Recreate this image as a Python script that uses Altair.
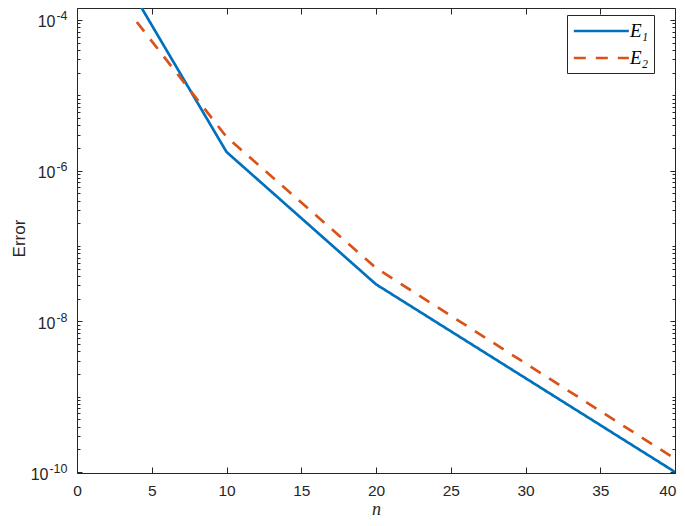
import altair as alt
import pandas as pd

# ---- data ----
n_values = [4, 10, 20, 40]
e1_values = [1.85e-4, 1.77e-6, 3.1e-8, 1.0e-10]
e2_values = [9.4e-5, 2.8e-6, 5.1e-8, 1.5e-10]
series_names = ["E₁", "E₂"]
series_colors = ["#0072BD", "#D95319"]
x_ticks = [0, 5, 10, 15, 20, 25, 30, 35, 40]
y_exponents = [-10, -8, -6, -4]
x_domain = [0, 40]
y_domain = [0.97e-10, 1.44e-4]

y_major = [10.0 ** e for e in y_exponents]
y_minor = []
for e in range(-11, -3):
    for k in range(1, 10):
        v = k * 10.0 ** e
        if y_domain[0] <= v <= y_domain[1] and not (k == 1 and e in y_exponents):
            y_minor.append(v)

df = pd.DataFrame({
    "n": n_values + n_values,
    "err": e1_values + e2_values,
    "series": [series_names[0]] * len(n_values) + [series_names[1]] * len(n_values),
})

W, H = 598, 465
AX = "#262626"
FONT = "Liberation Sans, DejaVu Sans, sans-serif"
SERIF = "Liberation Serif, DejaVu Serif, serif"

x_scale = alt.Scale(domain=x_domain, nice=False, zero=False)
y_scale = alt.Scale(type="log", domain=y_domain, nice=False)


def ex(axis):
    return alt.X("n:Q", scale=x_scale, axis=axis)


def ey(axis):
    return alt.Y("err:Q", scale=y_scale, axis=axis)


legend = alt.Legend(
    title=None, orient="none", legendX=490, legendY=7,
    symbolType="M-1,0H5", symbolSize=336, symbolStrokeWidth=2.7,
    labelFont=SERIF, labelFontStyle="italic", labelFontSize=19,
    labelColor="black", labelOffset=36,
    labelExpr="datum.label + '\u2002'",
    padding=5, rowPadding=6, strokeColor=AX, fillColor="white",
    cornerRadius=0,
)

last_x = x_ticks[-1]

lines = alt.Chart(df).mark_line(clip=True, strokeWidth=2.7).encode(
    x=ex(alt.Axis(
        orient="bottom", values=x_ticks, ticks=False, tickSize=0,
        domain=True, domainColor=AX, domainWidth=1, grid=False,
        labelFont=FONT, labelFontSize=15.5, labelColor=AX, labelPadding=10,
        labelAlign={"condition": {"test": f"datum.value == {last_x}", "value": "right"}, "value": "center"},
        labelOffset={"condition": {"test": f"datum.value == {last_x}", "value": 1}, "value": 0},
        title="n", titleFont=SERIF, titleFontStyle="italic",
        titleFontWeight="normal", titleFontSize=18, titleColor=AX,
        titleBaseline="alphabetic", titleY=41,
    )),
    y=ey(alt.Axis(
        orient="left", values=y_major, ticks=False, tickSize=0,
        domain=True, domainColor=AX, domainWidth=1, grid=False,
        labelFont=FONT, labelFontSize=16, labelColor=AX,
        labelExpr="'10'", labelOffset=2,
        labelPadding={"condition": {"test": "datum.value < 1e-9", "value": 29}, "value": 22},
        title="Error", titleFont=FONT, titleFontWeight="normal",
        titleFontSize=17, titleColor=AX, titleBaseline="alphabetic",
        titleX=-53, titleY=230,
    )),
    color=alt.Color("series:N", scale=alt.Scale(domain=series_names, range=series_colors), legend=legend),
    strokeDash=alt.StrokeDash("series:N", scale=alt.Scale(domain=series_names, range=[[1, 0], [12, 10]]), legend=legend),
)


def ghost(xaxis, yaxis):
    return alt.Chart(df).mark_point(opacity=0, clip=True).encode(x=ex(xaxis), y=ey(yaxis))


tick_style = dict(labels=False, grid=False, title=None, tickColor=AX, tickWidth=1)

layers = [
    lines,
    # bottom inward ticks + exponent labels
    ghost(
        alt.Axis(orient="top", offset=-H, values=x_ticks, domain=False, ticks=True, tickSize=6, **tick_style),
        alt.Axis(orient="left", values=y_major, ticks=False, tickSize=0, domain=False, grid=False,
                 labelExpr="'' + round(log(datum.value) / LN10)", labelFont=FONT,
                 labelFontSize=12.5, labelColor=AX, labelPadding=10, labelOffset=-4, title=None),
    ),
    # top frame + inward ticks, left inward major ticks
    ghost(
        alt.Axis(orient="bottom", offset=-H, values=x_ticks, domain=True, domainColor=AX, domainWidth=1,
                 ticks=True, tickSize=6, **tick_style),
        alt.Axis(orient="right", offset=-W, values=y_major, domain=False, ticks=True, tickSize=5, **tick_style),
    ),
    ghost(None, alt.Axis(orient="right", offset=-W, values=y_minor, domain=False, ticks=True, tickSize=3, **tick_style)),
    ghost(None, alt.Axis(orient="left", offset=-W, values=y_major, domain=True, domainColor=AX, domainWidth=1,
                         ticks=True, tickSize=5, **tick_style)),
    ghost(None, alt.Axis(orient="left", offset=-W, values=y_minor, domain=False, ticks=True, tickSize=3, **tick_style)),
]

chart = alt.layer(*layers).resolve_axis(x="independent", y="independent").properties(
    width=W, height=H,
    autosize=alt.AutoSizeParams(type="none"),
    padding={"left": 69, "top": 0, "right": 2, "bottom": 45},
).configure_view(stroke=None)

chart.save("out.html", embed_options={"renderer": "svg", "actions": False})
